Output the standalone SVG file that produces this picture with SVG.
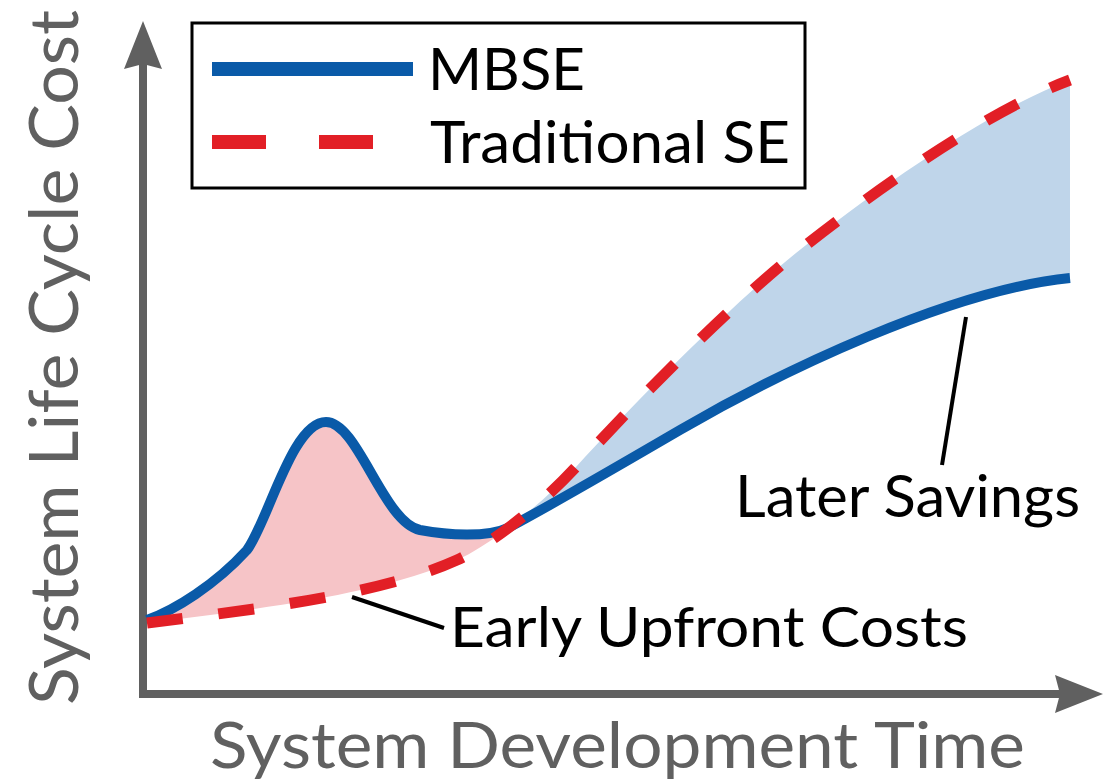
<svg xmlns="http://www.w3.org/2000/svg" width="1105" height="784" viewBox="0 0 1105 784">
  <style>
    .axis { stroke: #606060; stroke-width: 8; fill: none; }
    .axislabel { font-family: Lato, "Liberation Sans", sans-serif; fill: #606060; }
    .label { font-family: Lato, "Liberation Sans", sans-serif; fill: #000; }
    .mbse { stroke: #0a5aa8; stroke-width: 10; fill: none; }
    .trad { stroke: #e21f26; stroke-width: 11; fill: none; stroke-dasharray: 36 36; }
    .leader { stroke: #000; stroke-width: 4; fill: none; }
  </style>
  <defs>
    <marker id="arrow" markerUnits="userSpaceOnUse" markerWidth="56" markerHeight="44" viewBox="-40 -22 56 44" refX="0" refY="0" orient="auto">
      <path d="M12,0 L-36,-19 L-31,0 L-36,19 Z" fill="#606060"/>
    </marker>
  </defs>
  <rect width="1105" height="784" fill="#fff"/>

  <g id="fills">
    <path id="early-fill" fill="#f6c4c7" d="M147,620 C175,610 215,585 247,550 C268,522 292,422 326,422 C358,422 383,522 420,530 C447,535 487,538 509,527.4 C490.14,541.64 471.85,553.25 457,560 C380,595 250,610 147,623 Z"/>
    <path id="later-fill" fill="#bfd5ea" d="M509,527.4 C532.17,509.9 556.2,488.45 576,467 C636,401 730,306 796,253 C880,186 990,110 1070,80 L1070,278 C950,290 780,372 680,430 C620,465 542,510 509,527.4 Z"/>
  </g>

  <g id="axes">
    <path class="axis" d="M143,698 L143,33" marker-end="url(#arrow)"/>
    <path class="axis" d="M139,694 L1091,694" marker-end="url(#arrow)"/>
  </g>

  <g id="curves">
    <path id="mbse-curve" class="mbse" d="M147,620 C175,610 215,585 247,550 C268,522 292,422 326,422 C358,422 383,522 420,530 C447,535 487,538 509,527.4 C542,510 620,465 680,430 C780,372 950,290 1070,278"/>
    <path id="trad-curve" class="trad" d="M147,623 C250,610 380,595 457,560 C490,545 540,506 576,467 C636,401 730,306 796,253 C880,186 990,110 1070,80"/>
  </g>

  <g id="connectors">
    <line class="leader" x1="352" y1="597" x2="444" y2="628"/>
    <line class="leader" x1="966" y1="317" x2="942" y2="465"/>
  </g>

  <g id="legend">
    <rect x="192" y="23" width="613" height="165" fill="#fff" stroke="#000" stroke-width="3"/>
    <line x1="212" y1="69" x2="413" y2="69" stroke="#0a5aa8" stroke-width="14"/>
    <line x1="212" y1="142" x2="374" y2="142" stroke="#e21f26" stroke-width="14" stroke-dasharray="54 53"/>
    <text class="label" x="428" y="90" font-size="58" textLength="157" lengthAdjust="spacingAndGlyphs">MBSE</text>
    <text class="label" x="430" y="163" font-size="58" textLength="360" lengthAdjust="spacingAndGlyphs">Traditional SE</text>
  </g>

  <g id="label-early">
    <text class="label" x="450" y="647" font-size="56" textLength="518" lengthAdjust="spacingAndGlyphs">Early Upfront Costs</text>
  </g>
  <g id="label-later">
    <text class="label" x="735" y="517" font-size="58" textLength="345" lengthAdjust="spacingAndGlyphs">Later Savings</text>
  </g>

  <g id="axis-labels">
    <text class="axislabel" x="210" y="768" font-size="64" textLength="815" lengthAdjust="spacingAndGlyphs">System Development Time</text>
    <text class="axislabel" transform="translate(78,705) rotate(-90)" x="0" y="0" font-size="68" textLength="695" lengthAdjust="spacingAndGlyphs">System Life Cycle Cost</text>
  </g>
</svg>
